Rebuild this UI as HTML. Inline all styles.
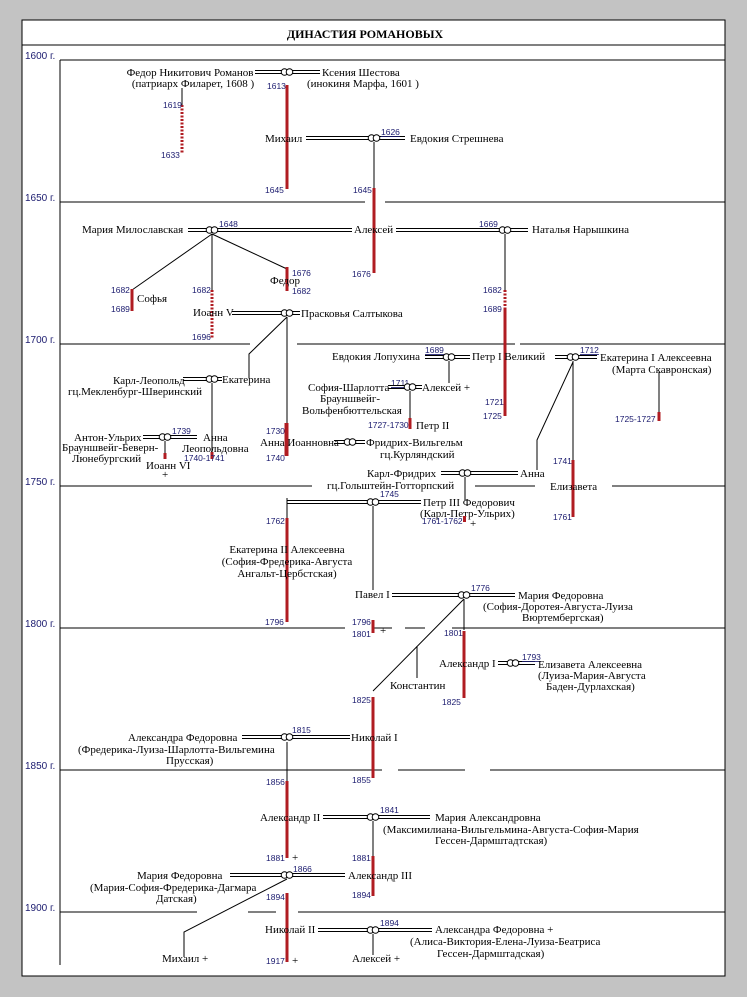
<!DOCTYPE html>
<html><head><meta charset="utf-8"><style>
html,body{margin:0;padding:0;background:#c3c3c3;}
svg{display:block}
text{font-family:"Liberation Serif",serif;font-size:11px;fill:#000}
.n{font-family:"Liberation Sans",sans-serif;font-size:8.5px;fill:#1a1a6e}
.l{stroke:#000;stroke-width:1;fill:none}
.d{stroke:#000;stroke-width:1;fill:none}
.m{stroke:#000;stroke-width:1;fill:#fff}
.r{fill:#b01c22}
.rd{stroke:#b01c22;stroke-width:3;stroke-dasharray:2,1.5;fill:none}
</style></head><body>
<svg width="747" height="997" viewBox="0 0 747 997" xmlns="http://www.w3.org/2000/svg">
<rect x="22" y="20" width="703" height="956" fill="#fff" stroke="#000" stroke-width="1"/>
<line x1="22" y1="45" x2="725" y2="45" class="l"/>
<text x="365" y="38" text-anchor="middle" style="font-weight:bold;font-size:12px">ДИНАСТИЯ  РОМАНОВЫХ</text>
<line x1="60" y1="60" x2="60" y2="965" class="l"/>
<g>
<text x="25" y="59" class="n" style="font-size:10px">1600 г.</text>
<text x="25" y="201" class="n" style="font-size:10px">1650 г.</text>
<text x="25" y="343" class="n" style="font-size:10px">1700 г.</text>
<text x="25" y="485" class="n" style="font-size:10px">1750 г.</text>
<text x="25" y="627" class="n" style="font-size:10px">1800 г.</text>
<text x="25" y="769" class="n" style="font-size:10px">1850 г.</text>
<text x="25" y="911" class="n" style="font-size:10px">1900 г.</text>
</g>
<path class="l" d="M60 60H725 M60 202H365 M385 202H725 M60 344H250 M297 344H515 M520 344H725 M60 486H312 M475 486H535 M612 486H725 M60 628H345 M372 628H392 M405 628H425 M452 628H725 M60 770H382 M398 770H465 M490 770H725 M60 912H197 M248 912H276 M298 912H725"/>

<!-- Filaret -->
<text x="190" y="76" text-anchor="middle">Федор Никитович Романов</text>
<text x="193" y="87" text-anchor="middle">(патриарх Филарет, 1608 )</text>
<path class="d" d="M255 70.5H282 M255 73.5H282 M292 70.5H320 M292 73.5H320"/>
<circle class="m" cx="284.5" cy="72" r="3.3"/><circle class="m" cx="289.5" cy="72" r="3.3"/>
<text x="322" y="76">Ксения Шестова</text>
<text x="307" y="87">(инокиня Марфа, 1601 )</text>
<line class="l" x1="182" y1="88" x2="182" y2="105"/>
<line class="rd" x1="182" y1="105" x2="182" y2="154"/>
<text class="n" x="163" y="108">1619</text><text class="n" x="161" y="158">1633</text>
<rect class="r" x="285.5" y="85" width="3" height="104"/>
<text class="n" x="267" y="89">1613</text><text class="n" x="265" y="193">1645</text>
<text x="265" y="142">Михаил</text>
<path class="d" d="M306 136.5H370 M306 139.5H370 M379 136.5H405 M379 139.5H405"/>
<circle class="m" cx="371.5" cy="138" r="3.3"/><circle class="m" cx="376.5" cy="138" r="3.3"/>
<text class="n" x="381" y="135" text-decoration="underline">1626</text>
<text x="410" y="142">Евдокия Стрешнева</text>
<line class="l" x1="374" y1="142" x2="374" y2="188"/>
<rect class="r" x="372.5" y="188" width="3" height="85"/>
<text class="n" x="353" y="193">1645</text><text class="n" x="352" y="277">1676</text>

<!-- Alexei -->
<text x="82" y="233">Мария Милославская</text>
<path class="d" d="M188 228.5H207 M188 231.5H207 M217 228.5H352 M217 231.5H352 M396 228.5H500 M396 231.5H500 M510 228.5H528 M510 231.5H528"/>
<circle class="m" cx="209.5" cy="230" r="3.3"/><circle class="m" cx="214.5" cy="230" r="3.3"/>
<text class="n" x="219" y="227">1648</text>
<text x="354" y="233">Алексей</text>
<text class="n" x="479" y="227">1669</text>
<circle class="m" cx="502.5" cy="230" r="3.3"/><circle class="m" cx="507.5" cy="230" r="3.3"/>
<text x="532" y="233">Наталья Нарышкина</text>
<path class="l" d="M212 234L132 290 M212 234V290 M212 234L287 269"/>
<rect class="r" x="130.5" y="289" width="3" height="22"/>
<text class="n" x="111" y="293">1682</text><text class="n" x="111" y="312">1689</text>
<text x="137" y="302">Софья</text>
<line class="rd" x1="212" y1="290" x2="212" y2="338"/>
<text class="n" x="192" y="293">1682</text><text class="n" x="192" y="340">1696</text>
<rect class="r" x="285.5" y="267" width="3" height="24"/>
<text class="n" x="292" y="276">1676</text><text x="270" y="284">Федор</text><text class="n" x="292" y="294">1682</text>
<text x="193" y="316">Иоанн V</text>
<path class="d" d="M232 311.5H282 M232 314.5H282 M292 311.5H300 M292 314.5H300"/>
<circle class="m" cx="284.5" cy="313" r="3.3"/><circle class="m" cx="289.5" cy="313" r="3.3"/>
<text x="301" y="317">Прасковья Салтыкова</text>
<line class="l" x1="505" y1="234" x2="505" y2="290"/>
<line class="rd" x1="505" y1="290" x2="505" y2="310"/>
<rect class="r" x="503.5" y="309" width="3" height="107"/>
<text class="n" x="483" y="293">1682</text><text class="n" x="483" y="312">1689</text>
<text class="n" x="485" y="405">1721</text><text class="n" x="483" y="419">1725</text>

<!-- Praskovya children -->
<path class="l" d="M287 317L249 354V378 M287 317V423 M212 383V452 M165 441V453 M449 361V383 M410 391V418 M659 372V412 M573 361V460 M573 362L537 440V470 M465 477V500"/>
<text x="113" y="384">Карл-Леопольд</text>
<text x="68" y="395">гц.Мекленбург-Шверинский</text>
<path class="d" d="M183 377.5H207 M183 380.5H207 M217 377.5H222 M217 380.5H222"/>
<circle class="m" cx="209.5" cy="379" r="3.3"/><circle class="m" cx="214.5" cy="379" r="3.3"/>
<text x="222" y="383">Екатерина</text>
<rect class="r" x="284.5" y="423" width="4" height="33"/>
<text class="n" x="266" y="434">1730</text><text class="n" x="266" y="461">1740</text>
<text x="260" y="446">Анна Иоанновна</text>
<path class="d" d="M334 440.5H345 M334 443.5H345 M355 440.5H365 M355 443.5H365"/>
<circle class="m" cx="347.5" cy="442" r="3.3"/><circle class="m" cx="352.5" cy="442" r="3.3"/>
<text x="366" y="446">Фридрих-Вильгельм</text>
<text x="380" y="458">гц.Курляндский</text>
<text x="74" y="441">Антон-Ульрих</text>
<text x="62" y="451">Брауншвейг-Беверн-</text>
<text x="72" y="462">Люнебургский</text>
<path class="d" d="M143 435.5H162 M143 438.5H162 M170 435.5H197 M170 438.5H197"/>
<circle class="m" cx="162.5" cy="437" r="3.3"/><circle class="m" cx="167.5" cy="437" r="3.3"/>
<text class="n" x="172" y="434">1739</text>
<text x="203" y="441">Анна</text><text x="182" y="452">Леопольдовна</text>
<rect class="r" x="163.5" y="453" width="3" height="6"/>
<rect class="r" x="210.5" y="452" width="3" height="7"/>
<text class="n" x="184" y="461">1740-1741</text>
<text x="146" y="469">Иоанн VI</text><text x="162" y="478">+</text>

<!-- Peter I -->
<text x="332" y="360">Евдокия Лопухина</text>
<path class="d" d="M425 355.5H446 M425 358.5H446 M454 355.5H470 M454 358.5H470 M555 355.5H570 M555 358.5H570 M578 355.5H597 M578 358.5H597"/>
<text class="n" x="425" y="353" text-decoration="underline">1689</text>
<circle class="m" cx="446.5" cy="357" r="3.3"/><circle class="m" cx="451.5" cy="357" r="3.3"/>
<text x="472" y="360">Петр I Великий</text>
<circle class="m" cx="570.5" cy="357" r="3.3"/><circle class="m" cx="575.5" cy="357" r="3.3"/>
<text class="n" x="580" y="353" text-decoration="underline">1712</text>
<text x="600" y="361">Екатерина I Алексеевна</text>
<text x="612" y="373">(Марта Скавронская)</text>
<rect class="r" x="657.5" y="412" width="3" height="9"/>
<text class="n" x="615" y="422">1725-1727</text>
<text x="308" y="391">София-Шарлотта</text>
<text class="n" x="391" y="386" text-decoration="underline">1711</text>
<path class="d" d="M388 385.5H407 M388 388.5H407 M415 385.5H422 M415 388.5H422"/>
<circle class="m" cx="407.5" cy="387" r="3.3"/><circle class="m" cx="412.5" cy="387" r="3.3"/>
<text x="422" y="391">Алексей +</text>
<text x="320" y="402">Брауншвейг-</text>
<text x="302" y="414">Вольфенбюттельская</text>
<rect class="r" x="408.5" y="418" width="3" height="11"/>
<text class="n" x="368" y="428">1727-1730</text><text x="416" y="429">Петр II</text>
<rect class="r" x="571.5" y="460" width="3" height="57"/>
<text class="n" x="553" y="464">1741</text><text class="n" x="553" y="520">1761</text>
<text x="550" y="490">Елизавета</text>
<text x="367" y="477">Карл-Фридрих</text>
<text x="327" y="489">гц.Гольштейн-Готторпский</text>
<path class="d" d="M441 471.5H462 M441 474.5H462 M470 471.5H518 M470 474.5H518"/>
<circle class="m" cx="462.5" cy="473" r="3.3"/><circle class="m" cx="467.5" cy="473" r="3.3"/>
<text x="520" y="477">Анна</text>

<!-- Peter III / Catherine II -->
<path class="l" d="M287 498V518 M373 506V590 M464 599V630 M464 599L373 691 M417 646V678 M287 742V781 M373 821V856 M287 879L184 932V957 M373 934V955"/>
<path class="d" d="M287 500.5H370 M287 503.5H370 M378 500.5H421 M378 503.5H421"/>
<circle class="m" cx="370.5" cy="502" r="3.3"/><circle class="m" cx="375.5" cy="502" r="3.3"/>
<text class="n" x="380" y="497">1745</text>
<text x="423" y="506">Петр III Федорович</text>
<text x="420" y="517">(Карл-Петр-Ульрих)</text>
<rect class="r" x="463" y="516" width="3" height="6"/>
<text class="n" x="422" y="524">1761-1762</text><text x="470" y="527">+</text>
<rect class="r" x="285.5" y="518" width="3" height="104"/>
<text class="n" x="266" y="524">1762</text><text class="n" x="265" y="625">1796</text>
<text x="287" y="553" text-anchor="middle">Екатерина II Алексеевна</text>
<text x="287" y="565" text-anchor="middle">(София-Фредерика-Августа</text>
<text x="287" y="577" text-anchor="middle">Ангальт-Цербстская)</text>

<!-- Paul -->
<text x="355" y="598">Павел I</text>
<path class="d" d="M392 593.5H461 M392 596.5H461 M469 593.5H515 M469 596.5H515"/>
<circle class="m" cx="461.5" cy="595" r="3.3"/><circle class="m" cx="466.5" cy="595" r="3.3"/>
<text class="n" x="471" y="591">1776</text>
<text x="518" y="599">Мария Федоровна</text>
<text x="483" y="610">(София-Доротея-Августа-Луиза</text>
<text x="522" y="621">Вюртембергская)</text>
<rect class="r" x="371.5" y="620" width="3" height="13"/>
<text class="n" x="352" y="625">1796</text><text class="n" x="352" y="637">1801</text><text x="380" y="634">+</text>
<rect class="r" x="462.5" y="631" width="3" height="67"/>
<text class="n" x="444" y="636">1801</text><text class="n" x="442" y="705">1825</text>
<text x="390" y="689">Константин</text>
<text x="439" y="667">Александр I</text>
<path class="d" d="M498 661.5H510 M498 664.5H510 M518 661.5H535 M518 664.5H535"/>
<circle class="m" cx="510.5" cy="663" r="3.3"/><circle class="m" cx="515.5" cy="663" r="3.3"/>
<text class="n" x="522" y="660" text-decoration="underline">1793</text>
<text x="538" y="668">Елизавета Алексеевна</text>
<text x="538" y="679">(Луиза-Мария-Августа</text>
<text x="546" y="690">Баден-Дурлахская)</text>
<rect class="r" x="371.5" y="697" width="3" height="81"/>
<text class="n" x="352" y="703">1825</text><text class="n" x="352" y="783">1855</text>

<!-- Nicholas I -->
<text x="128" y="741">Александра Федоровна</text>
<text x="78" y="753">(Фредерика-Луиза-Шарлотта-Вильгемина</text>
<text x="166" y="764">Прусская)</text>
<path class="d" d="M242 735.5H284 M242 738.5H284 M292 735.5H350 M292 738.5H350"/>
<circle class="m" cx="284.5" cy="737" r="3.3"/><circle class="m" cx="289.5" cy="737" r="3.3"/>
<text class="n" x="292" y="733">1815</text>
<text x="351" y="741">Николай I</text>
<rect class="r" x="285.5" y="781" width="3" height="77"/>
<text class="n" x="266" y="785">1856</text><text class="n" x="266" y="861">1881</text><text x="292" y="861">+</text>
<text x="260" y="821">Александр II</text>
<path class="d" d="M323 815.5H370 M323 818.5H370 M378 815.5H430 M378 818.5H430"/>
<circle class="m" cx="370.5" cy="817" r="3.3"/><circle class="m" cx="375.5" cy="817" r="3.3"/>
<text class="n" x="380" y="813">1841</text>
<text x="435" y="821">Мария Александровна</text>
<text x="383" y="833">(Максимилиана-Вильгельмина-Августа-София-Мария</text>
<text x="435" y="844">Гессен-Дармштадтская)</text>
<rect class="r" x="371.5" y="856" width="3" height="40"/>
<text class="n" x="352" y="861">1881</text><text class="n" x="352" y="898">1894</text>
<text x="348" y="879">Александр III</text>
<text x="137" y="879">Мария Федоровна</text>
<text x="90" y="891">(Мария-София-Фредерика-Дагмара</text>
<text x="156" y="902">Датская)</text>
<path class="d" d="M230 873.5H284 M230 876.5H284 M292 873.5H345 M292 876.5H345"/>
<circle class="m" cx="284.5" cy="875" r="3.3"/><circle class="m" cx="289.5" cy="875" r="3.3"/>
<text class="n" x="293" y="872">1866</text>
<rect class="r" x="285.5" y="893" width="3" height="69"/>
<text class="n" x="266" y="900">1894</text><text class="n" x="266" y="964">1917</text><text x="292" y="964">+</text>
<text x="265" y="933">Николай II</text>
<path class="d" d="M318 928.5H370 M318 931.5H370 M378 928.5H432 M378 931.5H432"/>
<circle class="m" cx="370.5" cy="930" r="3.3"/><circle class="m" cx="375.5" cy="930" r="3.3"/>
<text class="n" x="380" y="926">1894</text>
<text x="435" y="933">Александра Федоровна +</text>
<text x="410" y="945">(Алиса-Виктория-Елена-Луиза-Беатриса</text>
<text x="437" y="957">Гессен-Дармштадская)</text>
<text x="162" y="962">Михаил +</text>
<text x="352" y="962">Алексей +</text>
</svg>
</body></html>
